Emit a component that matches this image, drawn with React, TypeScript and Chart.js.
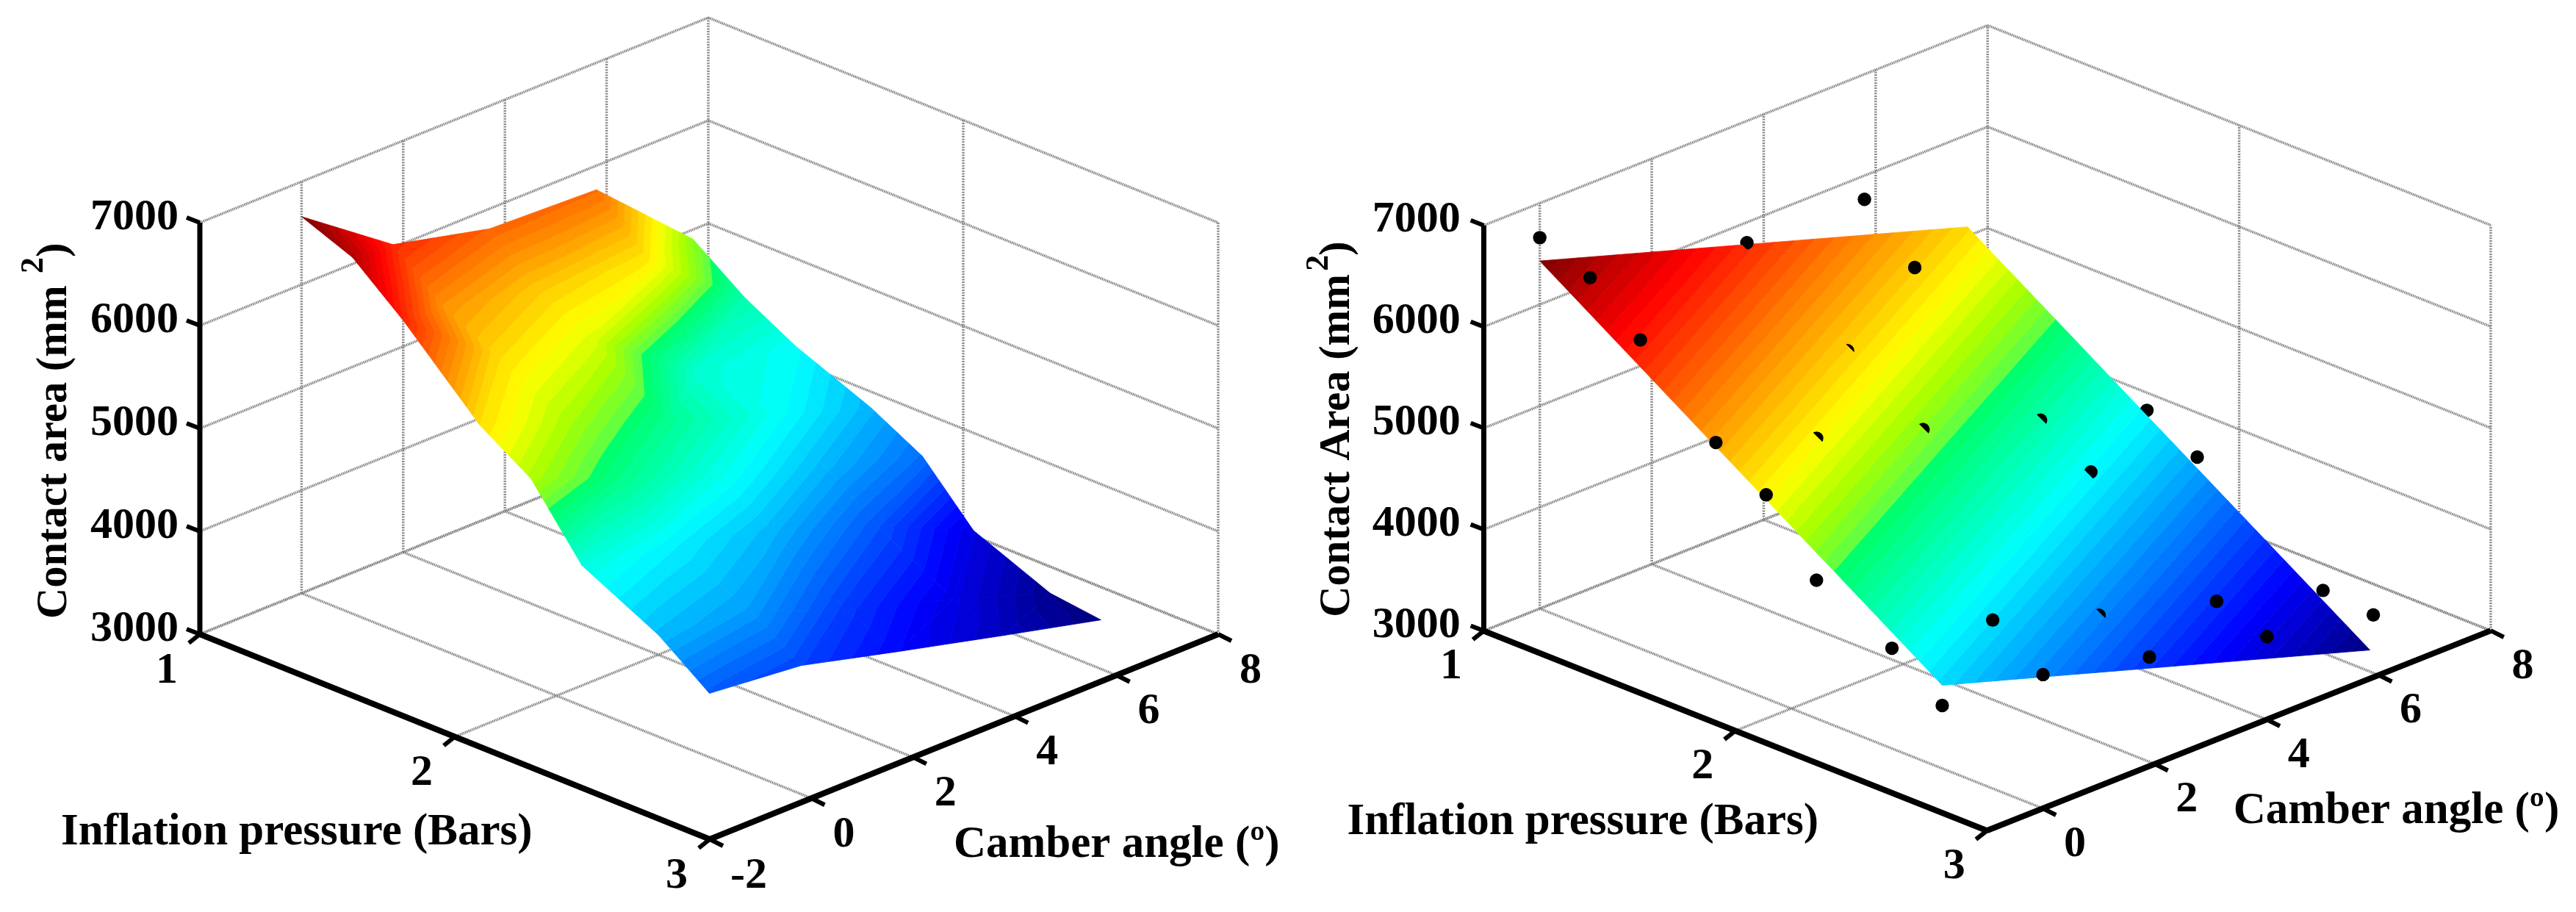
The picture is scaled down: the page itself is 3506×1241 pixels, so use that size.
import React, { useEffect, useRef } from "react";
import { Chart, registerables } from "chart.js";

Chart.register(...registerables);

// ---------- data ----------
const pressureTicks = [1, 2, 3];
const areaTicks = [3000, 4000, 5000, 6000, 7000];
const camberTicksLeft = [-2, 0, 2, 4, 6, 8];
const camberTicksRight = [0, 2, 4, 6, 8];

const gridPressure = [1, 1.2, 1.4, 1.7, 1.9, 2.1, 2.4, 2.6];
const gridCamber = [0, 1.8, 3.7, 5.8, 7.7];
const measuredArea = [
  [6660, 6030, 5805, 5766, 4907],
  [6463, 5620, 5400, 5291, 4545],
  [6046, 5360, 5127, 4400, 4271],
  [5329, 4969, 4638, 4284, 3961],
  [5010, 4660, 4330, 3967, 3693],
  [4365, 4200, 3982, 3600, 3171],
  [3989, 3873, 3492, 3181, 2862],
  [3621, 3532, 3289, 3029, 2800],
];

const planePressure = [1, 2.6];
const planeCamber = [0, 7.64];
const planeArea = [
  [6430, 5091],
  [3821, 2493],
];

const dotPressure = [1, 1, 1, 1.2, 1.2, 1.4, 1.4, 1.7, 1.7, 1.7, 1.7, 1.9, 1.7, 1.9, 1.9, 2.1, 2.4, 2.4, 2.4, 2.4, 2.6, 2.6, 2.6, 2.6, 2.4, 2.6, 2.1];
const dotCamber = [0, 3.7, 5.8, 0, 5.8, 0, 3.7, 0, 1.8, 3.7, 5.8, 0, 7.7, 7.7, 5.8, 3.7, 1.8, 3.7, 5.8, 7.7, 7.7, 5.8, 3.7, 1.8, 0, 0, 0];
const dotArea = [6660, 5799, 5766, 6463, 5291, 6046, 5127, 5329, 4976, 4645, 4278, 5010, 3958, 3693, 3964, 3980, 3873, 3503, 3181, 2871, 2827, 3029, 3289, 3532, 3989, 3621, 4365];

// ---------- panel geometry and labels ----------
const FONT = '"Liberation Serif", "Times New Roman", serif';

const leftPanel = {
  range: [0, 1753],
  origin: [272, 863],
  pVec: [347, 139.5],
  cVec: [69.2, -27.9],
  zScale: 0.14,
  camberMin: -2,
  camberMax: 8,
  camberTicks: camberTicksLeft,
  xLabel: { text: "Inflation pressure (Bars)", x: 83, y: 1133 },
  cLabel: { text: "Camber angle (º)", x: 1298, y: 1150 },
  zLabel: { text: "Contact area (mm", x: 90, y: 842, supX: 58, supY: 372, parenY: 350 },
  zTickRight: 243,
};
const rightPanel = {
  range: [1753, 3506],
  origin: [2013, 862],
  pVec: [346, 138],
  cVec: [77, -30.7],
  zScale: 0.14,
  camberMin: -1,
  camberMax: 8,
  camberTicks: camberTicksRight,
  xLabel: { text: "Inflation pressure (Bars)", x: 1825, y: 1127 },
  cLabel: { text: "Camber angle (º)", x: 3044, y: 1112 },
  zLabel: { text: "Contact Area (mm", x: 1828, y: 843, supX: 1798, supY: 365, parenY: 344 },
  zTickRight: 1981,
};

function project(panel: any, p: number, c: number, z: number) {
  const dp = p - 1;
  const dc = c - panel.camberMin;
  return {
    x: panel.origin[0] + panel.pVec[0] * dp + panel.cVec[0] * dc,
    y: panel.origin[1] + panel.pVec[1] * dp + panel.cVec[1] * dc - panel.zScale * (z - 3000),
  };
}

// The figure's jet: saturated greens between cyan and yellow.
function jet(level: number) {
  const v = (level + 0.5) / 64;
  const cl = (t: number) => Math.round(255 * Math.max(0, Math.min(1, t)));
  let r = Math.min(4 * v - 1.5, -4 * v + 4.5);
  let g = Math.min(4 * v - 0.5, -4 * v + 3.5);
  let b = Math.min(4 * v + 0.5, -4 * v + 2.5);
  if (v >= 0.375 && v < 0.52) {
    r = 0;
    g = 1;
    b = 1 - ((v - 0.375) / 0.145) * 0.62;
  } else if (v >= 0.52 && v < 0.625) {
    r = 0.38 + ((v - 0.52) / 0.105) * 0.62;
    g = 1;
    b = Math.max(0, 0.26 * (1 - (v - 0.52) / 0.045));
  }
  return `rgb(${cl(r)},${cl(g)},${cl(b)})`;
}

type V = { p: number; c: number; z: number };

function clipAbove(poly: V[], lim: number, sign: number) {
  const out: V[] = [];
  for (let i = 0; i < poly.length; i++) {
    const a = poly[i];
    const b = poly[(i + 1) % poly.length];
    const ia = sign * (a.z - lim) >= 0;
    const ib = sign * (b.z - lim) >= 0;
    if (ia) out.push(a);
    if (ia !== ib) {
      const t = (lim - a.z) / (b.z - a.z);
      out.push({ p: a.p + t * (b.p - a.p), c: a.c + t * (b.c - a.c), z: lim });
    }
  }
  return out;
}

function paintSurface(chart: any, panel: any, ps: number[], cs: number[], zs: number[][]) {
  const ctx = chart.ctx;
  const all = zs.flat();
  const zMin = Math.min(...all);
  const zMax = Math.max(...all);
  const step = (zMax - zMin) / 64;
  const sx = chart.scales.x;
  const sy = chart.scales.y;
  const paint = (tri: V[]) => {
    const lo = Math.min(...tri.map((v) => v.z));
    const hi = Math.max(...tri.map((v) => v.z));
    const l0 = Math.max(0, Math.floor((lo - zMin) / step));
    const l1 = Math.min(63, Math.floor((hi - zMin) / step));
    for (let l = l0; l <= l1; l++) {
      const a = l === 0 ? -1e9 : zMin + l * step;
      const b = l === 63 ? 1e9 : zMin + (l + 1) * step;
      const poly = clipAbove(clipAbove(tri, a, 1), b, -1);
      if (poly.length < 3) continue;
      const col = jet(l);
      ctx.fillStyle = col;
      ctx.strokeStyle = col;
      ctx.lineWidth = 0.8;
      ctx.lineJoin = "round";
      ctx.beginPath();
      poly.forEach((v, i) => {
        const q = project(panel, v.p, v.c, v.z);
        const x = sx.getPixelForValue(q.x);
        const y = sy.getPixelForValue(q.y);
        if (i === 0) ctx.moveTo(x, y);
        else ctx.lineTo(x, y);
      });
      ctx.closePath();
      ctx.fill();
      ctx.stroke();
    }
  };
  for (let i = 0; i < ps.length - 1; i++) {
    for (let j = cs.length - 2; j >= 0; j--) {
      const a = { p: ps[i], c: cs[j], z: zs[i][j] };
      const b = { p: ps[i], c: cs[j + 1], z: zs[i][j + 1] };
      const d = { p: ps[i + 1], c: cs[j], z: zs[i + 1][j] };
      const e = { p: ps[i + 1], c: cs[j + 1], z: zs[i + 1][j + 1] };
      paint([a, b, d]);
      paint([b, e, d]);
    }
  }
}

function planeAt(p: number, c: number) {
  const u = (p - planePressure[0]) / (planePressure[1] - planePressure[0]);
  const w = (c - planeCamber[0]) / (planeCamber[1] - planeCamber[0]);
  return (
    planeArea[0][0] * (1 - u) * (1 - w) +
    planeArea[0][1] * (1 - u) * w +
    planeArea[1][0] * u * (1 - w) +
    planeArea[1][1] * u * w
  );
}

function drawTexts(chart: any, panel: any) {
  const ctx = chart.ctx;
  const sx = chart.scales.x;
  const sy = chart.scales.y;
  const X = (v: number) => sx.getPixelForValue(v);
  const Y = (v: number) => sy.getPixelForValue(v);
  ctx.save();
  ctx.fillStyle = "#000";
  ctx.font = `bold 60px ${FONT}`;
  ctx.textBaseline = "middle";

  ctx.textAlign = "right";
  areaTicks.forEach((z) => {
    const q = project(panel, 1, panel.camberMin, z);
    ctx.fillText(String(z), X(panel.zTickRight), Y(q.y - 7));
  });
  ctx.textAlign = "center";
  pressureTicks.forEach((p) => {
    const q = project(panel, p, panel.camberMin, 3000);
    ctx.fillText(String(p), X(q.x - 45), Y(q.y + 50));
  });
  panel.camberTicks.forEach((c: number) => {
    const q = project(panel, 3, c, 3000);
    ctx.fillText(String(c), X(q.x + (c < 0 ? 53 : 44)), Y(q.y + 50));
  });

  ctx.textAlign = "left";
  ctx.font = `bold 61px ${FONT}`;
  ctx.fillText(panel.xLabel.text, X(panel.xLabel.x), Y(panel.xLabel.y));
  ctx.fillText(panel.cLabel.text, X(panel.cLabel.x), Y(panel.cLabel.y));

  const zl = panel.zLabel;
  ctx.textBaseline = "alphabetic";
  const vertical = (text: string, x: number, y: number, font: string) => {
    ctx.save();
    ctx.translate(X(x), Y(y));
    ctx.rotate(-Math.PI / 2);
    ctx.font = font;
    ctx.fillText(text, 0, 0);
    ctx.restore();
  };
  vertical(zl.text, zl.x, zl.y, `bold 58.5px ${FONT}`);
  vertical("2", zl.supX, zl.supY, `bold 44px ${FONT}`);
  vertical(")", zl.x, zl.parenY, `bold 58.5px ${FONT}`);
  ctx.restore();
}

const panelPlugin = {
  id: "panelPlugin",
  afterDatasetDraw(chart: any, args: any) {
    const cfg = chart.config.options.plugins.panelPlugin;
    if (chart.data.datasets[args.index].isSurface) {
      paintSurface(chart, cfg.panel, cfg.ps, cfg.cs, cfg.zs);
    }
  },
  afterDatasetsDraw(chart: any) {
    const cfg = chart.config.options.plugins.panelPlugin;
    if (cfg.occlude) {
      const ctx = chart.ctx;
      const n = [Math.SQRT1_2, -Math.SQRT1_2];
      const tan = [Math.SQRT1_2, Math.SQRT1_2];
      dotPressure.forEach((p, i) => {
        const c = dotCamber[i];
        const z = dotArea[i];
        const dz = z - planeAt(p, c);
        const t = 3 - 0.55 * dz;
        if (t <= -9.5) return;
        const q = project(cfg.panel, p, c, z);
        const cx = chart.scales.x.getPixelForValue(q.x);
        const cy = chart.scales.y.getPixelForValue(q.y);
        ctx.save();
        ctx.beginPath();
        ctx.arc(cx, cy, 10.5, 0, Math.PI * 2);
        ctx.clip();
        ctx.beginPath();
        const A = [cx + n[0] * t, cy + n[1] * t];
        const B = [A[0] - n[0] * 60, A[1] - n[1] * 60];
        ctx.moveTo(A[0] + tan[0] * 30, A[1] + tan[1] * 30);
        ctx.lineTo(A[0] - tan[0] * 30, A[1] - tan[1] * 30);
        ctx.lineTo(B[0] - tan[0] * 30, B[1] - tan[1] * 30);
        ctx.lineTo(B[0] + tan[0] * 30, B[1] + tan[1] * 30);
        ctx.closePath();
        ctx.clip();
        paintSurface(chart, cfg.panel, cfg.ps, cfg.cs, cfg.zs);
        ctx.restore();
      });
    }
    drawTexts(chart, cfg.panel);
  },
};

function segment(a: any, b: any, color: string, width: number, dash: number[], order: number) {
  return {
    type: "scatter",
    data: [a, b],
    showLine: true,
    borderColor: color,
    borderWidth: width,
    borderDash: dash,
    borderCapStyle: "butt",
    pointRadius: 0,
    order,
  };
}

function buildFrame(panel: any) {
  const out: any[] = [];
  const P = (p: number, c: number, z: number) => project(panel, p, c, z);
  const G = "#808080";
  const D = [1.5, 1];
  const W = 3.5;
  const cMin = panel.camberMin;
  const cMax = panel.camberMax;
  const zTop = areaTicks[areaTicks.length - 1];
  const pEnd = pressureTicks[pressureTicks.length - 1];
  areaTicks.forEach((z) => {
    out.push(segment(P(1, cMin, z), P(1, cMax, z), G, W, D, 10));
    out.push(segment(P(1, cMax, z), P(pEnd, cMax, z), G, W, D, 10));
  });
  panel.camberTicks.forEach((c: number) => {
    if (c !== cMin) out.push(segment(P(1, c, 3000), P(1, c, zTop), "#8a8a8a", W, [2, 1.6], 10));
    if (c !== cMin) out.push(segment(P(1, c, 3000), P(pEnd, c, 3000), G, W, D, 10));
  });
  pressureTicks.forEach((p) => {
    if (p !== 1) out.push(segment(P(p, cMax, 3000), P(p, cMax, zTop), "#8a8a8a", W, [2, 1.6], 10));
    if (p !== pEnd) out.push(segment(P(p, cMin, 3000), P(p, cMax, 3000), G, W, D, 10));
  });
  // axes
  out.push(segment(P(1, cMin, 3000), P(1, cMin, zTop), "#000", 7, [], 9));
  out.push(segment(P(1, cMin, 3000), P(pEnd, cMin, 3000), "#000", 8, [], 9));
  out.push(segment(P(pEnd, cMin, 3000), P(pEnd, cMax, 3000), "#000", 8, [], 9));
  // tick marks
  const off = (q: any, dx: number, dy: number) => ({ x: q.x + dx, y: q.y + dy });
  areaTicks.forEach((z) => {
    const q = P(1, cMin, z);
    out.push(segment(q, off(q, -18, -7), "#000", 6, [], 9));
  });
  pressureTicks.forEach((p) => {
    const q = P(p, cMin, 3000);
    out.push(segment(q, off(q, -15, 12), "#000", 6, [], 9));
  });
  panel.camberTicks.forEach((c: number) => {
    const q = P(pEnd, c, 3000);
    out.push(segment(q, off(q, 18, 9), "#000", 6, [], 9));
  });
  return out;
}

function makeChart(canvas: HTMLCanvasElement, panel: any, ps: number[], cs: number[], zs: number[][], dots: any[] | null) {
  const nodes: any[] = [];
  ps.forEach((p, i) => cs.forEach((c, j) => nodes.push(project(panel, p, c, zs[i][j]))));
  const datasets: any[] = [
    ...buildFrame(panel),
    { type: "scatter", data: nodes, pointRadius: 0, showLine: false, isSurface: true, order: 5 },
  ];
  if (dots) {
    datasets.push({
      type: "scatter",
      data: dots,
      pointRadius: 9.2,
      pointBorderWidth: 0,
      pointBackgroundColor: "#000",
      showLine: false,
      order: 1,
    });
  }
  return new Chart(canvas, {
    type: "scatter",
    data: { datasets },
    options: {
      animation: false,
      responsive: false,
      events: [],
      layout: { padding: 0 },
      plugins: {
        legend: { display: false },
        tooltip: { enabled: false },
        panelPlugin: { panel, ps, cs, zs, occlude: !!dots },
      },
      scales: {
        x: { type: "linear", display: false, min: panel.range[0], max: panel.range[1] },
        y: { type: "linear", display: false, min: 0, max: 1241, reverse: true },
      },
    },
    plugins: [panelPlugin],
  } as any);
}

export default function App() {
  const leftRef = useRef<HTMLCanvasElement>(null);
  const rightRef = useRef<HTMLCanvasElement>(null);
  useEffect(() => {
    const dots = dotPressure.map((p, i) => project(rightPanel, p, dotCamber[i], dotArea[i]));
    const a = makeChart(leftRef.current!, leftPanel, gridPressure, gridCamber, measuredArea, null);
    const b = makeChart(rightRef.current!, rightPanel, planePressure, planeCamber, planeArea, dots);
    return () => {
      a.destroy();
      b.destroy();
    };
  }, []);
  return (
    <div style={{ position: "absolute", left: 0, top: 0, width: 3506, height: 1241, background: "#fff", overflow: "hidden" }}>
      <canvas ref={leftRef} width={1753} height={1241} style={{ position: "absolute", left: 0, top: 0, display: "block" }} />
      <canvas ref={rightRef} width={1753} height={1241} style={{ position: "absolute", left: 1753, top: 0, display: "block" }} />
    </div>
  );
}
